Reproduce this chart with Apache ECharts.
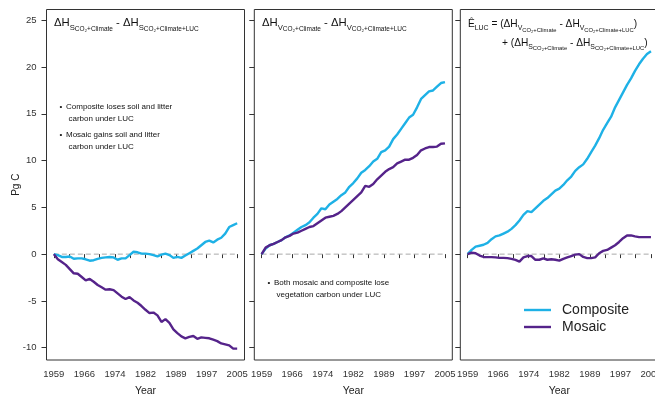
<!DOCTYPE html>
<html>
<head>
<meta charset="utf-8">
<script src="https://cdn.jsdelivr.net/npm/echarts@6/dist/echarts.min.js"></script>
<style>
  html, body { margin: 0; padding: 0; background: #fff; }
  #chart { width: 655px; height: 399px; }
</style>
</head>
<body>
<div id="chart"></div>
<script>
// Years of the simulation period
const years = [1959, 1960, 1961, 1962, 1963, 1964, 1965, 1966, 1967, 1968,
  1969, 1970, 1971, 1972, 1973, 1974, 1975, 1976, 1977, 1978,
  1979, 1980, 1981, 1982, 1983, 1984, 1985, 1986, 1987, 1988,
  1989, 1990, 1991, 1992, 1993, 1994, 1995, 1996, 1997, 1998,
  1999, 2000, 2001, 2002, 2003, 2004, 2005];

// Soil + litter carbon difference (Pg C)
const soilComposite = [0, -0.1, -0.3, -0.3, -0.25, -0.5, -0.45, -0.45, -0.55, -0.7,
  -0.65, -0.5, -0.4, -0.35, -0.3, -0.35, -0.6, -0.45, -0.45, -0.1,
  0.25, 0.2, 0.05, 0.05, 0.0, -0.1, -0.25, -0.05, 0.05, -0.1,
  -0.4, -0.3, -0.4, -0.15, 0.1, 0.35, 0.6, 0.95, 1.3, 1.45,
  1.25, 1.55, 1.75, 2.2, 2.9, 3.1, 3.3];
const soilMosaic = [0, -0.55, -0.85, -1.15, -1.6, -2.05, -2.1, -2.45, -2.8, -2.65,
  -2.95, -3.3, -3.55, -3.8, -3.75, -3.85, -4.2, -4.55, -4.8, -4.6,
  -4.95, -5.2, -5.55, -5.95, -6.3, -6.25, -6.55, -7.25, -6.95, -7.35,
  -8.05, -8.45, -8.8, -9.0, -8.85, -8.75, -9.05, -8.9, -8.95, -9.0,
  -9.15, -9.3, -9.55, -9.65, -9.75, -10.1, -10.1];

// Vegetation carbon difference (Pg C)
const vegComposite = [0, 0.6, 0.95, 1.1, 1.3, 1.5, 1.8, 2.0, 2.3, 2.6,
  2.9, 3.1, 3.4, 3.9, 4.3, 4.9, 4.8, 5.3, 5.6, 5.9,
  6.3, 6.6, 7.2, 7.6, 8.1, 8.7, 9.0, 9.4, 9.9, 10.2,
  10.9, 11.1, 11.5, 12.3, 12.8, 13.4, 14.0, 14.6, 14.9, 15.7,
  16.6, 17.0, 17.4, 17.5, 17.9, 18.3, 18.4];
const vegMosaic = [0, 0.7, 0.95, 1.1, 1.3, 1.5, 1.8, 1.95, 2.2, 2.3,
  2.5, 2.7, 2.9, 3.0, 3.3, 3.6, 3.9, 4.0, 4.1, 4.3,
  4.6, 5.0, 5.4, 5.8, 6.2, 6.6, 7.3, 7.2, 7.5, 8.0,
  8.4, 8.8, 9.1, 9.3, 9.7, 9.9, 10.1, 10.1, 10.3, 10.6,
  11.1, 11.3, 11.45, 11.45, 11.5, 11.8, 11.85];

// Estimated land-use-change flux (Pg C)
const elucComposite = [0, 0.45, 0.8, 0.9, 1.0, 1.2, 1.6, 1.9, 2.0, 2.2,
  2.4, 2.7, 3.1, 3.6, 4.2, 4.6, 4.5, 4.9, 5.3, 5.7,
  6.0, 6.4, 6.8, 7.0, 7.4, 7.9, 8.3, 8.9, 9.3, 9.6,
  10.2, 10.9, 11.6, 12.4, 13.3, 14.0, 14.7, 15.7, 16.5, 17.3,
  18.1, 18.8, 19.6, 20.3, 20.9, 21.4, 21.7];
const elucMosaic = [0, 0.15, 0.1, -0.15, -0.3, -0.32, -0.32, -0.35, -0.4, -0.4,
  -0.43, -0.5, -0.62, -0.8, -0.35, -0.2, -0.2, -0.6, -0.6, -0.45,
  -0.6, -0.55, -0.6, -0.7, -0.5, -0.35, -0.2, -0.05, 0.0, -0.3,
  -0.43, -0.43, -0.35, 0.1, 0.35, 0.45, 0.7, 0.95, 1.3, 1.7,
  2.0, 2.0, 1.9, 1.82, 1.82, 1.82, 1.82];

// Axis ticks
const xTickLabels = ['1959', '1966', '1974', '1982', '1989', '1997', '2005'];
const yTickValues = [-10, -5, 0, 5, 10, 15, 20, 25];

const COL_COMPOSITE = '#1eb1e6';
const COL_MOSAIC = '#55238a';
const FONT = '"Liberation Sans", Arial, "DejaVu Sans", sans-serif';

const X0 = 1959, X1 = 2005;
const pad = (X1 - X0) * 0.04;
const xLabelPos = xTickLabels.map((_, i) => X0 + i * (X1 - X0) / 6);
const xTickPos = [];
for (let i = 0; i <= 12; i++) xTickPos.push(X0 + i * (X1 - X0) / 12);

const panels = [
  { left: 46.5, composite: soilComposite, mosaic: soilMosaic },
  { left: 254.3, composite: vegComposite, mosaic: vegMosaic },
  { left: 460.3, composite: elucComposite, mosaic: elucMosaic }
];
const PANEL_W = 198, PANEL_TOP = 9.5, PANEL_H = 350.5;

const pairs = vals => years.map((y, i) => [y, vals[i]]);

const grids = [], xAxes = [], yAxes = [], series = [];
panels.forEach((p, i) => {
  grids.push({
    left: p.left, top: PANEL_TOP, width: PANEL_W, height: PANEL_H,
    outerBoundsMode: 'none', containLabel: false,
    show: true, borderColor: '#333', borderWidth: 1, backgroundColor: 'transparent'
  });
  xAxes.push({
    type: 'value', gridIndex: i, min: X0 - pad, max: X1 + pad,
    axisLine: { show: false }, splitLine: { show: false },
    axisTick: { show: true, customValues: xTickPos, length: 4, lineStyle: { color: '#333' } },
    axisLabel: {
      customValues: xLabelPos, margin: 9, fontSize: 9.5, color: '#333', fontFamily: FONT,
      formatter: v => xTickLabels[Math.round((v - X0) / ((X1 - X0) / 6))]
    },
    name: 'Year', nameLocation: 'middle', nameGap: 26, nameMoveOverlap: false,
    nameTextStyle: { fontSize: 10.5, color: '#222', fontFamily: FONT }
  });
  yAxes.push({
    type: 'value', gridIndex: i, min: -11.32, max: 26.16,
    axisLine: { show: false }, splitLine: { show: false },
    axisTick: { show: true, customValues: yTickValues, length: 5, lineStyle: { color: '#333' } },
    axisLabel: {
      show: i === 0, customValues: yTickValues, margin: 10, fontSize: 9.5,
      color: '#333', fontFamily: FONT
    },
    name: i === 0 ? 'Pg C' : '', nameLocation: 'middle', nameGap: 25, nameRotate: 90,
    nameMoveOverlap: false,
    nameTextStyle: { fontSize: 10, color: '#222', fontFamily: FONT }
  });
  // zero reference line
  series.push({
    type: 'line', xAxisIndex: i, yAxisIndex: i, data: [[X0, 0], [X1, 0]],
    showSymbol: false, silent: true, z: 1,
    lineStyle: { color: '#aaa', width: 1, type: [5, 3] }
  });
  series.push({
    name: 'Composite', type: 'line', xAxisIndex: i, yAxisIndex: i,
    data: pairs(p.composite), showSymbol: false, z: 2,
    lineStyle: { color: COL_COMPOSITE, width: 2.4 }, itemStyle: { color: COL_COMPOSITE }
  });
  series.push({
    name: 'Mosaic', type: 'line', xAxisIndex: i, yAxisIndex: i,
    data: pairs(p.mosaic), showSymbol: false, z: 3,
    lineStyle: { color: COL_MOSAIC, width: 2.4 }, itemStyle: { color: COL_MOSAIC }
  });
});

// Lay out a math-style label: pieces of [text, fontSize, baseline shift]
const measure = document.createElement('canvas').getContext('2d');
function mathText(x, baseline, parts) {
  const out = [];
  let cx = x;
  parts.forEach(([t, size, shift]) => {
    const font = size + 'px ' + FONT;
    measure.font = font;
    out.push({
      type: 'text', x: cx, y: baseline + shift - 0.35 * size, silent: true, z: 10,
      style: { text: t, font: font, fill: '#111', verticalAlign: 'middle', align: 'left' }
    });
    cx += measure.measureText(t).width;
  });
  return out;
}
function deltaPair(letter, k) {
  const big = 11.3 * k, sub = 7.7 * k, sub2 = 6.5 * k;
  return [
    ['ΔH', big, 0], [letter, sub, 3 * k], ['CO₂+Climate', sub2, 4.5 * k],
    [' - ', big, 0],
    ['ΔH', big, 0], [letter, sub, 3 * k], ['CO₂+Climate+LUC', sub2, 4.5 * k]
  ];
}
const K3 = 0.9;

function note(x, y, lines) {
  const els = [{
    type: 'text', x: x, y: y, silent: true,
    style: { text: '•', font: '8px ' + FONT, fill: '#111', verticalAlign: 'middle' }
  }];
  lines.forEach(([t, dx, dy]) => els.push({
    type: 'text', x: x + dx, y: y + dy, silent: true,
    style: { text: t, font: '8px ' + FONT, fill: '#111', verticalAlign: 'middle' }
  }));
  return els;
}

const graphics = [].concat(
  mathText(54, 27.3, deltaPair('S', 1)),
  mathText(262, 27.3, deltaPair('V', 1)),
  mathText(468, 28, [['Ê', 11.3 * K3, 0], ['LUC', 7.7 * K3, 3 * K3], [' = (', 11.3 * K3, 0]]
    .concat(deltaPair('V', K3)).concat([[')', 11.3 * K3, 0]])),
  mathText(502, 46.5, [['+ (', 11.3 * K3, 0]].concat(deltaPair('S', K3)).concat([[')', 11.3 * K3, 0]])),
  note(59.5, 106.7, [['Composite loses soil and litter', 6.5, 0], ['carbon under LUC', 9, 11.6]]),
  note(59.5, 134.7, [['Mosaic gains soil and litter', 6.5, 0], ['carbon under LUC', 9, 11.6]]),
  note(267.5, 283, [['Both mosaic and composite lose', 6.5, 0], ['vegetation carbon under LUC', 9, 12]])
);

const chart = echarts.init(document.getElementById('chart'), null, { renderer: 'canvas' });
chart.setOption({
  animation: false,
  backgroundColor: '#fff',
  textStyle: { fontFamily: FONT },
  grid: grids,
  xAxis: xAxes,
  yAxis: yAxes,
  series: series,
  legend: {
    data: ['Composite', 'Mosaic'], orient: 'vertical', left: 519, top: 298,
    icon: 'rect', itemWidth: 27, itemHeight: 2.4, itemGap: 3,
    textStyle: { fontSize: 14, color: '#222', fontFamily: FONT, padding: [0, 0, 0, 6] },
    selectedMode: false
  },
  graphic: graphics
});
</script>
</body>
</html>
